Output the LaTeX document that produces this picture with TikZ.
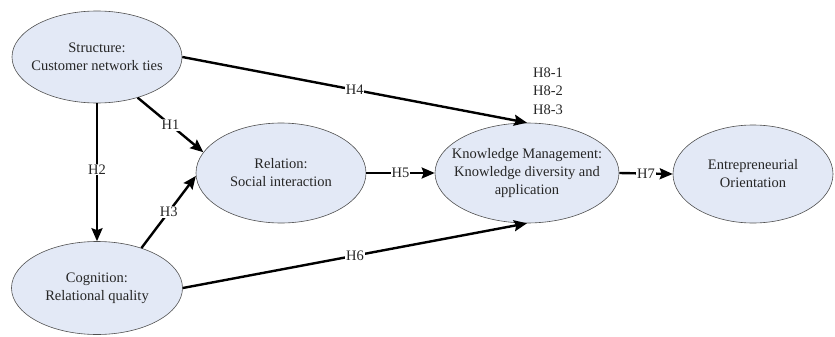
\documentclass[tikz,border=0pt]{standalone}
\usepackage{fontspec}
\setmainfont{Liberation Serif}
\usetikzlibrary{shapes.geometric,arrows.meta}

\definecolor{constructfill}{RGB}{227,233,246}
\definecolor{constructline}{RGB}{80,80,80}

\begin{document}
\begin{tikzpicture}[x=1pt,y=-1pt,
    font=\fontsize{14.5}{18}\selectfont,
    construct/.style={ellipse, draw=constructline, line width=0.6pt, fill=constructfill, inner sep=0pt},
    ctext/.style={align=center, text=black!85},
    hyp/.style={line width=2.4pt, -{Stealth[length=13pt,width=11pt,inset=2pt]}},
    hlabel/.style={fill=white, inner sep=0.8pt, text=black!85}]

    % Fix the size of the picture to the reference
    \useasboundingbox (0,0) rectangle (835,337);

    % Draw the five constructs as ellipses
    % S is the top-left construct
    \node[construct, minimum width=170, minimum height=92] (S) at (97,57) {};
    % C is the bottom-left construct
    \node[construct, minimum width=171, minimum height=93] (C) at (97,288) {};
    % R is the middle construct
    \node[construct, minimum width=170, minimum height=100] (R) at (281,173) {};
    % KM is the knowledge management construct
    \node[construct, minimum width=184, minimum height=100] (KM) at (527,173) {};
    % EO is the construct at the right
    \node[construct, minimum width=160, minimum height=98] (EO) at (753,174) {};

    % Add the text inside each ellipse
    \node[ctext] (S-text) at (S) {Structure:\\Customer network ties};
    \node[ctext] (C-text) at (C) {Cognition:\\Relational quality};
    \node[ctext] (R-text) at (R) {Relation:\\Social interaction};
    \node[ctext] (KM-text) at (KM) {Knowledge Management:\\Knowledge diversity and\\application};
    \node[ctext] (EO-text) at (EO) {Entrepreneurial\\Orientation};

    % Draw the hypothesis arrows, each with its label on the line
    \draw[hyp] (S.-45) -- node[hlabel] (H1) {H1} (R.165.6);
    \draw[hyp] (S.south) -- node[hlabel, pos=0.48] (H2) {H2} (C.north);
    \draw[hyp] (C.42) -- node[hlabel] (H3) {H3} (R.182);
    \draw[hyp] (S.east) -- node[hlabel] (H4) {H4} (KM.north);
    \draw[hyp] (R.east) -- node[hlabel] (H5) {H5} (KM.west);
    \draw[hyp] (C.east) -- node[hlabel] (H6) {H6} (KM.south);
    \draw[hyp] (KM.east) -- node[hlabel] (H7) {H7} (EO.west);

    % Add the label for the moderating hypotheses above KM
    \node[ctext, font=\fontsize{14.5}{18.5}\selectfont] (H8) at (548,91) {H8-1\\H8-2\\H8-3};

\end{tikzpicture}
\end{document}
